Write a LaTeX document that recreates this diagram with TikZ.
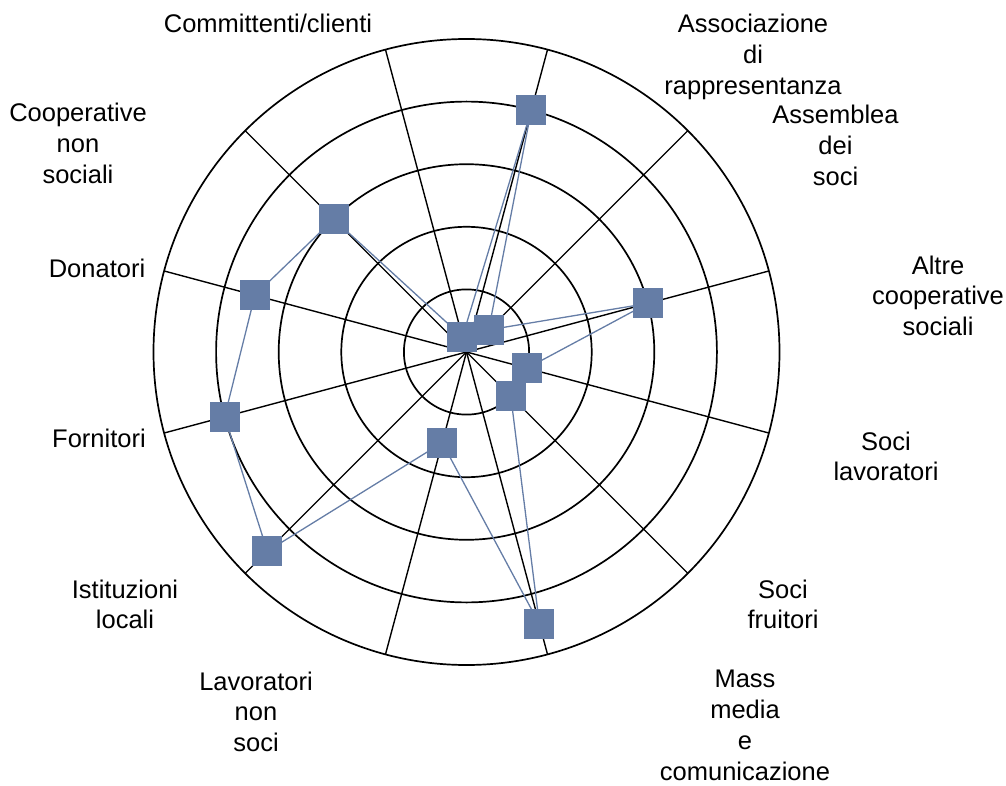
\documentclass[tikz,border=0pt]{standalone}
\usepackage{fontspec}
\setmainfont{Liberation Sans}
\usetikzlibrary{calc}
\definecolor{serie}{RGB}{101,125,166}
\tikzset{
  ring/.style={draw=black, line width=1.7pt},
  axisline/.style={draw=black, line width=1.4pt},
  serieline/.style={draw=serie, line width=1.3pt},
  marker/.style={fill=serie, draw=none, minimum size=30pt, inner sep=0pt, outer sep=0pt},
  lbl/.style={font=\fontsize{25.5}{30.8}\selectfont, align=center, anchor=base, inner sep=0pt}
}
\begin{document}
\begin{tikzpicture}[x=1pt,y=-1pt]
\useasboundingbox (0,0) rectangle (1006,786);
\coordinate (C) at (466.5,352);
% rings
\foreach \k in {1,...,5} {
  \draw[ring] (C) circle[radius={\k*62.6pt}];
}
% axes and data points
\foreach \i/\ang/\val in {1/105/1, 2/75/16, 3/45/2, 4/15/12, 5/-15/4, 6/-45/4,
                          7/-75/18, 8/-105/6, 9/-135/18, 10/-165/16, 11/165/14, 12/135/12} {
  \coordinate (ax\i) at ($(C)+({313*cos(\ang)},{-313*sin(\ang)})$);
  \draw[axisline] (C) -- (ax\i);
  \coordinate (v\i) at ($(C)+({15.65*\val*cos(\ang)},{-15.65*\val*sin(\ang)})$);
}
\draw[serieline] (v1) -- (v2) -- (v3) -- (v4) -- (v5) -- (v6) -- (v7) -- (v8) -- (v9) -- (v10) -- (v11) -- (v12) -- cycle;
\foreach \i in {1,...,12} {
  \node[marker] (p\i) at (v\i) {};
}
% labels (anchor = baseline of the last line)
\node[lbl] (l1) at (268,33) {Committenti/clienti};
\node[lbl] (l2) at (753,94.6) {Associazione\\di\\rappresentanza};
\node[lbl] (l3) at (835.5,185.6) {Assemblea\\dei\\soci};
\node[lbl] (l4) at (938,335.6) {Altre\\cooperative\\sociali};
\node[lbl] (l5) at (886,480.8) {Soci\\lavoratori};
\node[lbl] (l6) at (783,628.8) {Soci\\fruitori};
\node[lbl] (l7) at (745,780) {Mass\\media\\e\\comunicazione};
\node[lbl] (l8) at (256,751.6) {Lavoratori\\non\\soci};
\node[lbl] (l9) at (125,628.8) {Istituzioni\\locali};
\node[lbl] (l10) at (99,447) {Fornitori};
\node[lbl] (l11) at (97,277) {Donatori};
\node[lbl] (l12) at (78,183.6) {Cooperative\\non\\sociali};
\end{tikzpicture}
\end{document}
